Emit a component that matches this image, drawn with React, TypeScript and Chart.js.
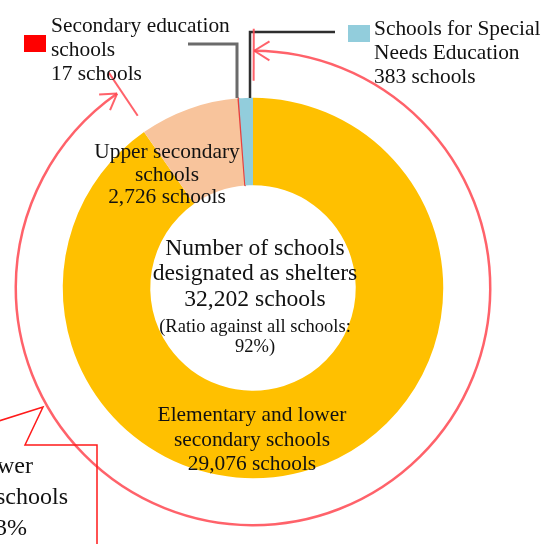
import React, { useEffect, useRef } from "react";
import { Chart, registerables } from "chart.js";

Chart.register(...registerables);

// ---- data ----
const categories = [
  "Elementary and lower secondary schools",
  "Upper secondary schools",
  "Secondary education schools",
  "Schools for Special Needs Education",
];
const labelLines = [
  ["Elementary and lower", "secondary schools"],
  ["Upper secondary", "schools"],
  ["Secondary education", "schools"],
  ["Schools for Special", "Needs Education"],
];
const schoolCounts = [29076, 2726, 17, 383];
const sliceColors = ["#FFC000", "#F8C49C", "#E8403F", "#92CDDC"];
const legendSwatchColors = ["#FFC000", "#F8C49C", "#FF0000", "#92CDDC"];
const centerTitle = ["Number of schools", "designated as shelters"];
const centerNote = ["(Ratio against all schools:", "92%)"];
const calloutLines = ["Ratio against all elementary and lower", "secondary schools", "93%"];

const fmt = (n: number) => n.toLocaleString("en-US");
const total = schoolCounts.reduce((a, b) => a + b, 0);
const countLine = (n: number) => `${fmt(n)} schools`;

const SERIF = '"Liberation Serif", "Times New Roman", serif';

const annotations = {
  id: "annotations",
  afterDatasetsDraw(chart: any) {
    const ctx: CanvasRenderingContext2D = chart.ctx;
    const meta = chart.getDatasetMeta(0);
    const first = meta.data[0].getProps(
      ["x", "y", "startAngle", "endAngle", "outerRadius", "innerRadius"],
      true
    );
    const cx = first.x;
    const cy = first.y;
    ctx.save();

    // leader lines
    ctx.lineJoin = "miter";
    ctx.strokeStyle = "#6b6b6b";
    ctx.lineWidth = 3;
    ctx.beginPath();
    ctx.moveTo(188, 44);
    ctx.lineTo(237, 44);
    ctx.lineTo(237, 98);
    ctx.stroke();

    ctx.strokeStyle = "#2e2e2e";
    ctx.lineWidth = 2.5;
    ctx.beginPath();
    ctx.moveTo(335, 32);
    ctx.lineTo(250, 32);
    ctx.lineTo(250, 98);
    ctx.stroke();

    // measuring arc over first slice
    const R = first.outerRadius + 47;
    const a0 = first.startAngle;
    const a1 = first.endAngle;
    ctx.strokeStyle = "rgba(255,70,80,0.85)";
    ctx.lineWidth = 2.5;
    ctx.beginPath();
    ctx.arc(cx, cy, R, a0 + 0.005, a1);
    ctx.stroke();

    const arrowHead = (a: number, dir: number) => {
      const px = cx + R * Math.cos(a);
      const py = cy + R * Math.sin(a);
      const tx = -Math.sin(a) * dir;
      const ty = Math.cos(a) * dir;
      const L = 18;
      const th = (32 * Math.PI) / 180;
      ctx.beginPath();
      for (const s of [1, -1]) {
        const rx = tx * Math.cos(s * th) - ty * Math.sin(s * th);
        const ry = tx * Math.sin(s * th) + ty * Math.cos(s * th);
        ctx.moveTo(px - L * rx, py - L * ry);
        ctx.lineTo(px, py);
      }
      ctx.stroke();
    };
    const tick = (a: number) => {
      ctx.beginPath();
      ctx.moveTo(cx + (R - 30) * Math.cos(a), cy + (R - 30) * Math.sin(a));
      ctx.lineTo(cx + (R + 22) * Math.cos(a), cy + (R + 22) * Math.sin(a));
      ctx.stroke();
    };
    ctx.lineWidth = 2;
    arrowHead(a0 + 0.005, -1);
    arrowHead(a1, 1);
    tick(a0 + 0.003);
    tick(a1 + 0.02);

    // callout box
    ctx.strokeStyle = "#FF1A1A";
    ctx.lineWidth = 1.5;
    ctx.beginPath();
    ctx.moveTo(-80, 446);
    ctx.lineTo(43, 407);
    ctx.lineTo(25, 445);
    ctx.lineTo(97, 445);
    ctx.lineTo(97, 560);
    ctx.stroke();

    ctx.fillStyle = "#111";
    ctx.textBaseline = "alphabetic";
    ctx.font = `24px ${SERIF}`;
    ctx.textAlign = "right";
    ctx.fillText(calloutLines[0], 33, 473);
    ctx.fillText(calloutLines[1], 68, 504);
    ctx.fillText(calloutLines[2], 27, 535);

    // legend swatches
    ctx.fillStyle = legendSwatchColors[2];
    ctx.fillRect(24, 35, 22, 17);
    ctx.fillStyle = legendSwatchColors[3];
    ctx.fillRect(348, 25, 22, 17);

    ctx.fillStyle = "#111";
    ctx.font = `21.4px ${SERIF}`;
    ctx.textAlign = "left";
    ctx.fillText(labelLines[2][0], 51, 32);
    ctx.fillText(labelLines[2][1], 51, 56);
    ctx.fillText(countLine(schoolCounts[2]), 51, 80);
    ctx.fillText(labelLines[3][0], 374, 35);
    ctx.fillText(labelLines[3][1], 374, 59);
    ctx.fillText(countLine(schoolCounts[3]), 374, 83);

    ctx.textAlign = "center";
    ctx.fillText(labelLines[1][0], 167, 158);
    ctx.fillText(labelLines[1][1], 167, 181);
    ctx.fillText(countLine(schoolCounts[1]), 167, 203);
    ctx.fillText(labelLines[0][0], 252, 421);
    ctx.fillText(labelLines[0][1], 252, 446);
    ctx.fillText(countLine(schoolCounts[0]), 252, 470);

    // center text
    ctx.font = `23.6px ${SERIF}`;
    ctx.fillText(centerTitle[0], 255, 255);
    ctx.fillText(centerTitle[1], 255, 280);
    ctx.fillText(countLine(total), 255, 306);
    ctx.font = `18.5px ${SERIF}`;
    ctx.fillText(centerNote[0], 255, 332);
    ctx.fillText(centerNote[1], 255, 352);

    ctx.restore();
  },
};

export default function App() {
  const ref = useRef<HTMLCanvasElement | null>(null);
  useEffect(() => {
    if (!ref.current) return;
    const chart = new Chart(ref.current, {
      type: "doughnut",
      data: {
        labels: categories,
        datasets: [
          {
            data: schoolCounts,
            backgroundColor: sliceColors,
            borderWidth: [0, 0, 1.5, 0],
            borderColor: ["#FFC000", "#F8C49C", "#E8403F", "#92CDDC"],
          },
        ],
      },
      options: {
        responsive: false,
        animation: false,
        cutout: "54%",
        rotation: 0,
        layout: { padding: { left: 62, right: 100, top: 97, bottom: 65 } },
        plugins: {
          legend: { display: false },
          tooltip: { enabled: false },
        },
      },
      plugins: [annotations],
    });
    return () => chart.destroy();
  }, []);
  return (
    <div style={{ position: "fixed", left: 0, top: 0, width: 544, height: 544, background: "#fff" }}>
      <canvas ref={ref} width={544} height={544} style={{ width: 544, height: 544 }} />
    </div>
  );
}
